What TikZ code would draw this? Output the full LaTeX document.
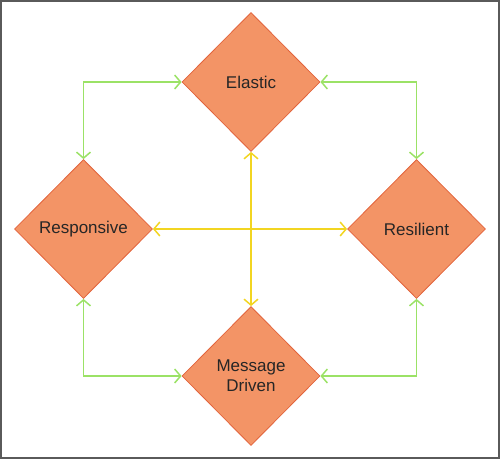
\documentclass[tikz,border=0pt]{standalone}
\usepackage{fontspec}
\setmainfont{Liberation Sans}
\usetikzlibrary{shapes.geometric,arrows.meta}
\definecolor{dfill}{HTML}{F39466}
\definecolor{dline}{HTML}{E2643C}
\definecolor{gline}{HTML}{9BE266}
\definecolor{yline}{HTML}{F2D521}
\definecolor{frame}{HTML}{5A5A5A}
\tikzset{
  dia/.style={diamond, fill=dfill, draw=dline, line width=0.8pt, minimum width=138pt, minimum height=139pt, inner sep=0pt, font=\fontsize{17}{20}\selectfont, align=center, text=black!85},
  garrow/.style={draw=gline, line width=1.5pt, {Straight Barb[length=6pt,width=14pt]}-{Straight Barb[length=6pt,width=14pt]}},
  yarrow/.style={draw=yline, line width=1.5pt, {Straight Barb[length=6pt,width=14pt]}-{Straight Barb[length=6pt,width=14pt]}}
}
\begin{document}
\begin{tikzpicture}[x=1pt,y=-1pt]
\useasboundingbox (0,0) rectangle (500,459);
\draw[frame, line width=2pt] (1,1) rectangle (499,458);
\node[dia] (el) at (251,82) {Elastic};
\node[dia] (rp) at (83.5,229) {Responsive};
\node[dia] (rs) at (416.5,229) {Resilient};
\node[dia] (md) at (251,376) {Message\\Driven};
\draw[garrow] (el.west) -| (rp.north);
\draw[garrow] (el.east) -| (rs.north);
\draw[garrow] (rp.south) |- (md.west);
\draw[garrow] (rs.south) |- (md.east);
\draw[yarrow] (rp.east) -- (rs.west);
\draw[yarrow] (el.south) -- (md.north);
\end{tikzpicture}
\end{document}
